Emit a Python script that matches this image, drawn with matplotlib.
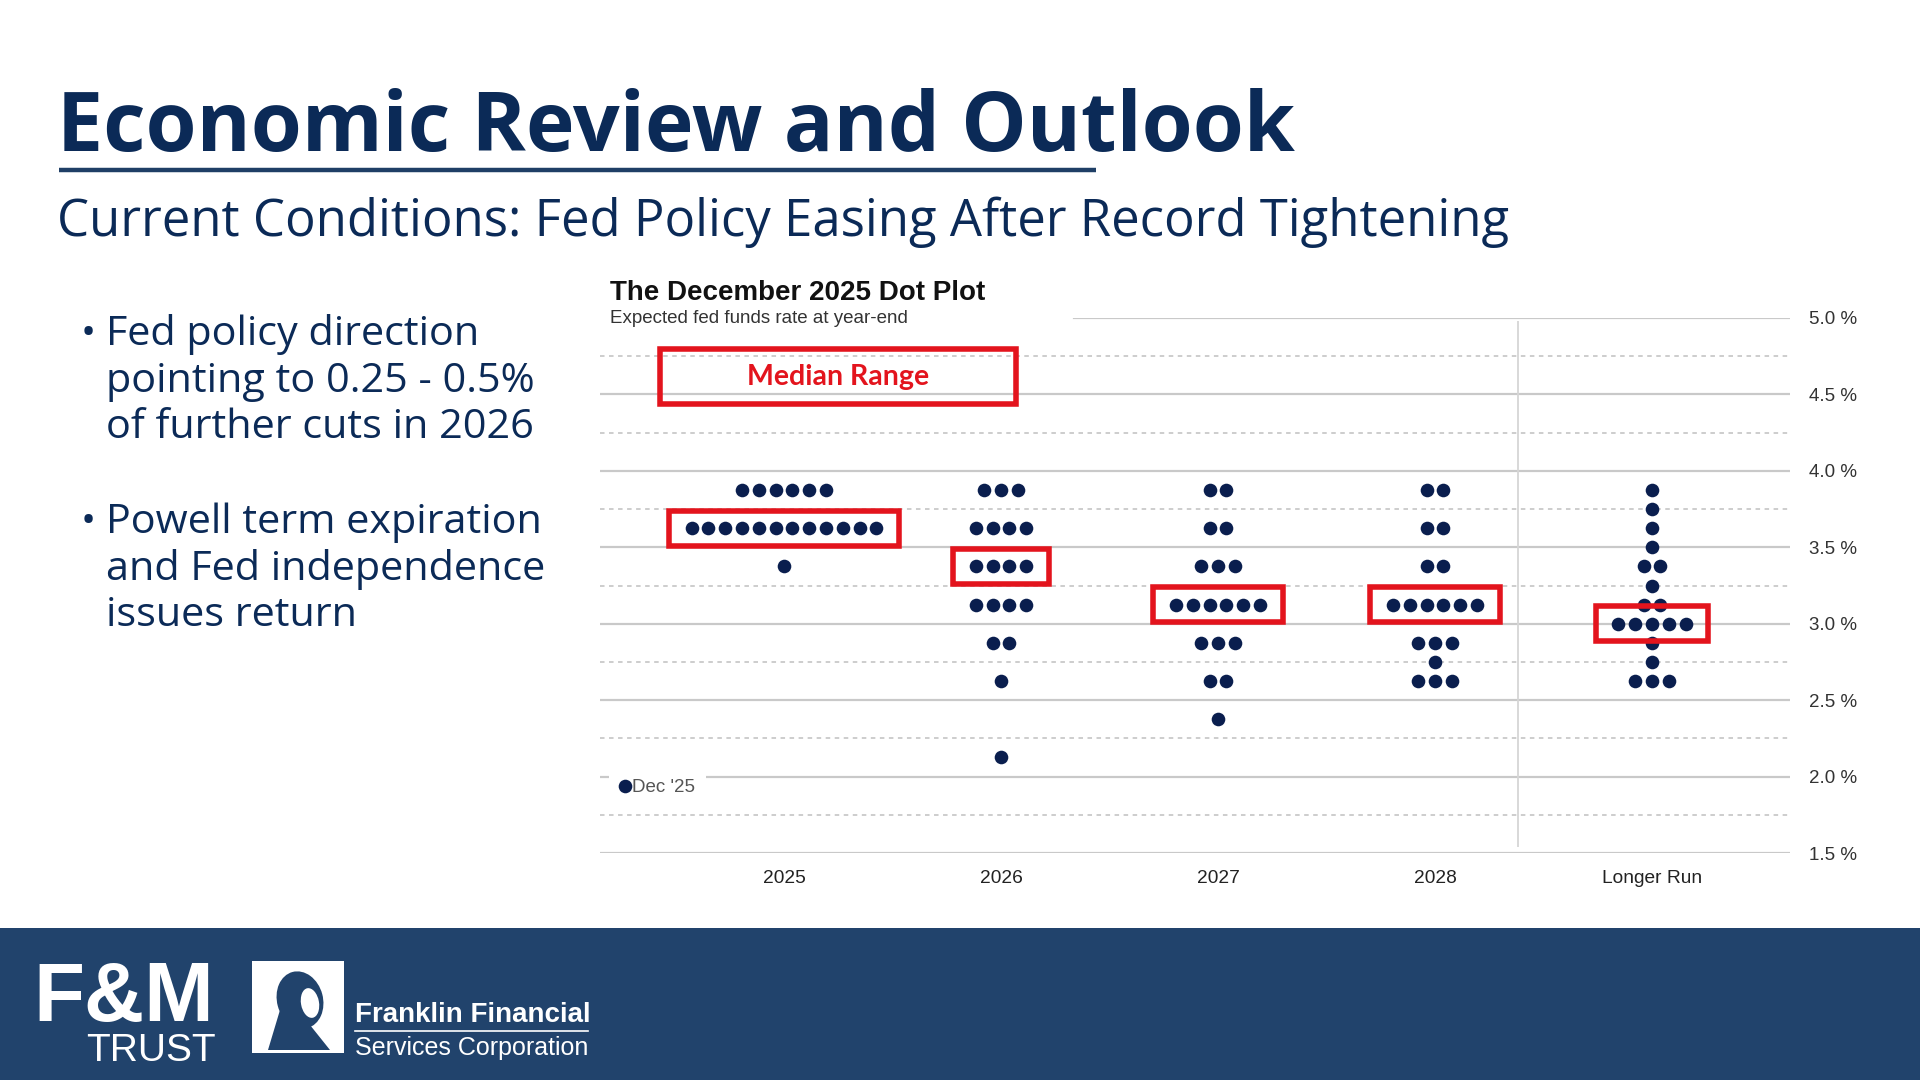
import numpy as np
import matplotlib.pyplot as plt
from matplotlib.patches import Rectangle, Ellipse, Polygon

NAVY = '#0B2A57'
DOT = '#0A1E4E'
RED = '#E3141D'
GRID = '#C9C9C9'
FOOTER = '#21436C'

# dot plot data: rate -> number of participants
categories = ['2025', '2026', '2027', '2028', 'Longer Run']
dots_2025 = {3.875: 6, 3.625: 12, 3.375: 1}
dots_2026 = {3.875: 3, 3.625: 4, 3.375: 4, 3.125: 4, 2.875: 2, 2.625: 1, 2.125: 1}
dots_2027 = {3.875: 2, 3.625: 2, 3.375: 3, 3.125: 6, 2.875: 3, 2.625: 2, 2.375: 1}
dots_2028 = {3.875: 2, 3.625: 2, 3.375: 2, 3.125: 6, 2.875: 3, 2.75: 1, 2.625: 3}
dots_longer = {3.875: 1, 3.75: 1, 3.625: 1, 3.5: 1, 3.375: 2, 3.25: 1, 3.125: 2,
               3.0: 5, 2.875: 1, 2.75: 1, 2.625: 3}
all_dots = [dots_2025, dots_2026, dots_2027, dots_2028, dots_longer]
medians = [3.625, 3.375, 3.125, 3.125, 3.0]

y_ticks = [1.5, 2.0, 2.5, 3.0, 3.5, 4.0, 4.5, 5.0]
y_minor = [1.75, 2.25, 2.75, 3.25, 3.75, 4.25, 4.75]

title = 'Economic Review and Outlook'
subtitle = 'Current Conditions: Fed Policy Easing After Record Tightening'
bullets = [['Fed policy direction', 'pointing to 0.25 - 0.5%', 'of further cuts in 2026'],
           ['Powell term expiration', 'and Fed independence', 'issues return']]

fig = plt.figure(figsize=(19.2, 10.8), dpi=100)
fig.patch.set_facecolor('white')

# slide background layer in pixel coordinates
bg = fig.add_axes([0, 0, 1, 1])
bg.set_xlim(0, 1920)
bg.set_ylim(1080, 0)
bg.axis('off')

bg.text(57, 151, title, fontsize=59.3, fontweight='bold', family='Open Sans',
        color=NAVY, va='baseline')
bg.plot([59, 1096], [170, 170], color='#1F3F66', lw=3.2, solid_capstyle='butt')
bg.text(57, 236, subtitle, fontsize=36.6, family='Open Sans', color=NAVY, va='baseline')

y0 = 345
for group in bullets:
    bg.text(81, y0, '•', fontsize=29, family='Open Sans', color=NAVY, va='baseline')
    for j, line in enumerate(group):
        bg.text(106, y0 + j * 46.5, line, fontsize=29.8, family='Open Sans',
                color=NAVY, va='baseline')
    y0 += 188

# footer band with logos
bg.add_patch(Rectangle((0, 928), 1920, 152, color=FOOTER, lw=0))
bg.text(33, 1021, 'F&M', fontsize=60, fontweight='bold', color='white', va='baseline',
        family='Liberation Sans')
bg.text(86, 1061, 'TRUST', fontsize=28, color='white', va='baseline',
        family='Liberation Sans')
bg.add_patch(Rectangle((252, 961), 92, 92, color='white', lw=0))
# simplified portrait mark
bg.add_patch(Ellipse((300, 1000), 46, 58, angle=-15, color=FOOTER, lw=0))
bg.add_patch(Polygon([[268, 1050], [280, 1010], [310, 1025], [330, 1050]],
                     closed=True, color=FOOTER, lw=0))
bg.add_patch(Ellipse((310, 1003), 18, 30, angle=-10, color='white', lw=0))
bg.text(355, 1022, 'Franklin Financial', fontsize=20, fontweight='bold', color='white',
        va='baseline', family='Liberation Sans')
bg.plot([355, 588], [1031, 1031], color='white', lw=1.2)
bg.text(355, 1055, 'Services Corporation', fontsize=18, color='white',
        va='baseline', family='Liberation Sans')

# chart titles
bg.text(610, 300, 'The December 2025 Dot Plot', fontsize=20, fontweight='bold',
        family='Liberation Sans', color='#111111', va='baseline')
bg.text(610, 323, 'Expected fed funds rate at year-end', fontsize=13.5,
        family='Liberation Sans', color='#333333', va='baseline')

# dot plot axes
ax = fig.add_axes([600 / 1920, 1 - 853 / 1080, 1190 / 1920, 535 / 1080])
ax.patch.set_alpha(0)
ax.set_xlim(-0.848, 4.636)
ax.set_ylim(1.5, 5.0)
for s in ax.spines.values():
    s.set_visible(False)

for v in y_ticks:
    xmin = 0.398 if v == 5.0 else 0
    ax.axhline(v, xmin=xmin, color=GRID, lw=1.6, zorder=1)
for v in y_minor:
    ax.axhline(v, color=GRID, lw=1.3, ls=(0, (2.5, 2.5)), zorder=1)
ax.vlines(3.382, 1.54, 4.98, color='#D6D6D6', lw=1.3, zorder=1)

dx = 0.0774
for i, d in enumerate(all_dots):
    for rate, n in d.items():
        xs = i + (np.arange(n) - (n - 1) / 2) * dx
        ax.plot(xs, [rate] * n, 'o', color=DOT, ms=9.8, mec='none', zorder=3)

# red median boxes
for i, (m, d) in enumerate(zip(medians, all_dots)):
    n = d[m]
    half = (n - 1) / 2 * dx + 0.104
    ax.add_patch(Rectangle((i - half, m - 0.115), 2 * half, 0.23, fill=False,
                           ec=RED, lw=4, zorder=4))

ax.add_patch(Rectangle((-0.571, 4.437), 1.64, 0.36, fill=False, ec=RED, lw=4,
                       zorder=4, clip_on=False))
ax.text(0.249, 4.617, 'Median Range', fontsize=20.5, fontweight='bold', family='Lato',
        color=RED, ha='center', va='center', zorder=5)

ax.set_yticks(y_ticks)
ax.set_yticklabels([f'{v:.1f} %' for v in y_ticks])
ax.yaxis.tick_right()
ax.tick_params(axis='y', length=0, pad=14, labelsize=13.5, labelcolor='#333333')
ax.set_xticks(range(len(categories)))
ax.set_xticklabels(categories)
ax.tick_params(axis='x', length=0, pad=12, labelsize=13.8, labelcolor='#222222')
for lab in ax.get_xticklabels() + ax.get_yticklabels():
    lab.set_family('Liberation Sans')

ax.plot([], [], 'o', color=DOT, ms=9.8, mec='none', label="Dec '25")
leg = ax.legend(loc='lower left', bbox_to_anchor=(0.0076, 0.085), borderaxespad=0,
                frameon=True, fancybox=False, facecolor='white', edgecolor='none',
                framealpha=1, handlelength=0.5, handletextpad=0.1, borderpad=0.6,
                prop={'family': 'Liberation Sans', 'size': 13.5})
for t in leg.get_texts():
    t.set_color('#555555')
leg.set_zorder(5)

fig.savefig('out.png', dpi=100)
